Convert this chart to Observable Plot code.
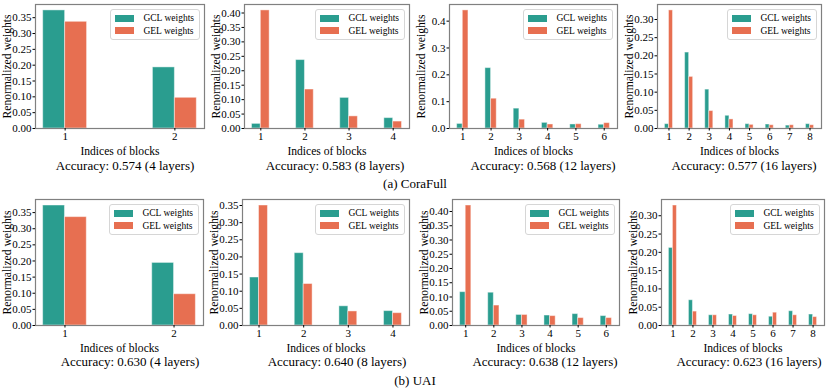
<!DOCTYPE html>
<html>
<head>
<meta charset="utf-8">
<script src="https://cdn.jsdelivr.net/npm/d3@7"></script>
<script src="https://cdn.jsdelivr.net/npm/@observablehq/plot@0.6"></script>
<style>
  html, body { margin: 0; padding: 0; background: #fff; }
  body { width: 831px; height: 392px; overflow: hidden; font-family: "Liberation Serif", "DejaVu Serif", serif; }
  #fig { position: relative; width: 831px; height: 392px; }
  .panel { position: absolute; overflow: visible; }
  svg.panel, svg.panel text { font-family: "Liberation Serif", serif !important; }
  svg.panel [aria-label="x-axis tick label"] text, svg.panel [aria-label="y-axis tick label"] text { font-size: 11px !important; }
  svg.panel [aria-label="x-axis label"] text, svg.panel [aria-label="y-axis label"] text { font-size: 11.6px !important; }
  .cap { position: absolute; transform: translate(-50%, -50%); white-space: nowrap; font-size: 13px; color: #000; }
  .legend { position: absolute; background: rgba(255,255,255,0.85); border: 1px solid #d6d6d6; border-radius: 3px;
            padding: 2px 5px 2px 4px; font-size: 9.5px; line-height: 12.5px; }
  .legend .row { display: flex; align-items: center; white-space: nowrap; }
  .legend .sw { width: 19px; height: 7px; margin-right: 9px; }
</style>
</head>
<body>
<div id="fig"></div>
<script>
// ---------------- data ----------------
const seriesNames = ["GCL weights", "GEL weights"];
const seriesColors = ["#2a9d8f", "#e76f51"];

// CoraFull
const coraGCL4  = [0.373, 0.193];
const coraGEL4  = [0.337, 0.097];
const coraGCL8  = [0.016, 0.237, 0.106, 0.036];
const coraGEL8  = [0.409, 0.135, 0.042, 0.024];
const coraGCL12 = [0.017, 0.225, 0.074, 0.021, 0.015, 0.014];
const coraGEL12 = [0.440, 0.111, 0.033, 0.015, 0.016, 0.020];
const coraGCL16 = [0.012, 0.209, 0.107, 0.035, 0.012, 0.011, 0.008, 0.012];
const coraGEL16 = [0.325, 0.142, 0.048, 0.025, 0.010, 0.009, 0.009, 0.009];
// UAI
const uaiGCL4  = [0.372, 0.194];
const uaiGEL4  = [0.336, 0.097];
const uaiGCL8  = [0.140, 0.211, 0.056, 0.042];
const uaiGEL8  = [0.350, 0.121, 0.041, 0.036];
const uaiGCL12 = [0.117, 0.115, 0.037, 0.035, 0.040, 0.033];
const uaiGEL12 = [0.421, 0.070, 0.037, 0.033, 0.026, 0.026];
const uaiGCL16 = [0.212, 0.069, 0.028, 0.030, 0.031, 0.024, 0.039, 0.030];
const uaiGEL16 = [0.328, 0.038, 0.028, 0.026, 0.028, 0.035, 0.028, 0.023];

const layers = [4, 8, 12, 16];
const coraAcc = ["0.574", "0.583", "0.568", "0.577"];
const uaiAcc  = ["0.630", "0.640", "0.638", "0.623"];

// y tick labels per panel
const ticks035 = [0, 0.05, 0.10, 0.15, 0.20, 0.25, 0.30, 0.35];
const ticks040 = [0, 0.05, 0.10, 0.15, 0.20, 0.25, 0.30, 0.35, 0.40];
const ticks030 = [0, 0.05, 0.10, 0.15, 0.20, 0.25, 0.30];
const ticks04  = [0, 0.1, 0.2, 0.3, 0.4];

const xLabel = "Indices of blocks";
const yLabel = "Renormalized weights";
const groupCaptions = ["(a) CoraFull", "(b) UAI"];

// ---------------- layout ----------------
const panels = [
  {gcl: coraGCL4,  gel: coraGEL4,  ticks: ticks035, fmt: ".2f", frame: [35, 204, 4, 128],   acc: coraAcc[0], lay: layers[0], capX: 125},
  {gcl: coraGCL8,  gel: coraGEL8,  ticks: ticks040, fmt: ".2f", frame: [244, 409, 4, 128],  acc: coraAcc[1], lay: layers[1], capX: 335},
  {gcl: coraGCL12, gel: coraGEL12, ticks: ticks04,  fmt: ".1f", frame: [449, 617, 4, 128],  acc: coraAcc[2], lay: layers[2], capX: 543},
  {gcl: coraGCL16, gel: coraGEL16, ticks: ticks030, fmt: ".2f", frame: [657, 821, 4, 128],  acc: coraAcc[3], lay: layers[3], capX: 744},
  {gcl: uaiGCL4,   gel: uaiGEL4,   ticks: ticks035, fmt: ".2f", frame: [35, 203, 199, 325], acc: uaiAcc[0],  lay: layers[0], capX: 130},
  {gcl: uaiGCL8,   gel: uaiGEL8,   ticks: ticks035, fmt: ".2f", frame: [242, 409, 199, 325],acc: uaiAcc[1],  lay: layers[1], capX: 337},
  {gcl: uaiGCL12,  gel: uaiGEL12,  ticks: ticks040, fmt: ".2f", frame: [452, 619, 199, 325],acc: uaiAcc[2],  lay: layers[2], capX: 545},
  {gcl: uaiGCL16,  gel: uaiGEL16,  ticks: ticks030, fmt: ".2f", frame: [661, 824, 199, 325],acc: uaiAcc[3],  lay: layers[3], capX: 749}
];

const fig = document.getElementById("fig");
const mL = 40, mR = 3, mT = 4, mB = 32;
const barW = 0.2;
const FONT = "Liberation Serif";

function addText(cls, text, x, y) {
  const d = document.createElement("div");
  d.className = cls;
  d.textContent = text;
  d.style.left = x + "px";
  d.style.top = y + "px";
  fig.appendChild(d);
}

panels.forEach((p, idx) => {
  const [l, r, t, b] = p.frame;
  const n = p.gcl.length;
  const blocks = d3.range(1, n + 1);
  const data = blocks.flatMap((k, i) => [
    {block: k, series: seriesNames[0], value: p.gcl[i], s: 0},
    {block: k, series: seriesNames[1], value: p.gel[i], s: 1}
  ]);
  const lo = 1 - barW, hi = n + barW;
  const pad = 0.05 * (hi - lo);
  const ymax = d3.max(data, d => d.value) * 1.05;

  const chart = Plot.plot({
    width: (r - l) + mL + mR,
    height: (b - t) + mT + mB,
    marginLeft: mL, marginRight: mR, marginTop: mT, marginBottom: mB,
    style: {fontFamily: FONT, fontSize: "11px", background: "transparent", color: "#000", overflow: "visible"},
    x: {domain: [lo - pad, hi + pad]},
    y: {domain: [0, ymax]},
    color: {domain: seriesNames, range: seriesColors},
    marks: [
      Plot.rect(data, {
        x1: d => d.block - barW + d.s * barW,
        x2: d => d.block + d.s * barW,
        y1: d => 0,
        y2: "value",
        fill: "series",
        stroke: "white", strokeOpacity: 0.45, strokeWidth: 1
      }),
      Plot.frame({stroke: "#808080", strokeWidth: 1.2}),
      Plot.axisX({ticks: blocks, tickFormat: d3.format("d"), tickSize: 2.5, tickPadding: 1.5,
        fontFamily: FONT, fontSize: 11,
        label: xLabel, labelAnchor: "center", labelOffset: 26, labelArrow: false}),
      Plot.axisY({ticks: p.ticks, tickFormat: d3.format(p.fmt), tickSize: 2.5, tickPadding: 1.5,
        fontFamily: FONT, fontSize: 11,
        label: yLabel, labelAnchor: "center", labelOffset: 33, labelArrow: false})
    ]
  });
  chart.classList.add("panel");
  chart.style.left = (l - mL) + "px";
  chart.style.top = (t - mT) + "px";
  fig.appendChild(chart);

  // legend (upper right inside the frame)
  const lg = document.createElement("div");
  lg.className = "legend";
  lg.style.right = (831 - r + 4) + "px";
  lg.style.top = (t + 5) + "px";
  seriesNames.forEach((s, i) => {
    const row = document.createElement("div");
    row.className = "row";
    const sw = document.createElement("span");
    sw.className = "sw";
    sw.style.background = seriesColors[i];
    const tx = document.createElement("span");
    tx.textContent = s;
    row.appendChild(sw); row.appendChild(tx);
    lg.appendChild(row);
  });
  fig.appendChild(lg);

  addText("cap", `Accuracy: ${p.acc} (${p.lay} layers)`, p.capX, idx < 4 ? 166 : 362);
});

addText("cap", groupCaptions[0], 415, 184);
addText("cap", groupCaptions[1], 415, 381);
</script>
</body>
</html>
